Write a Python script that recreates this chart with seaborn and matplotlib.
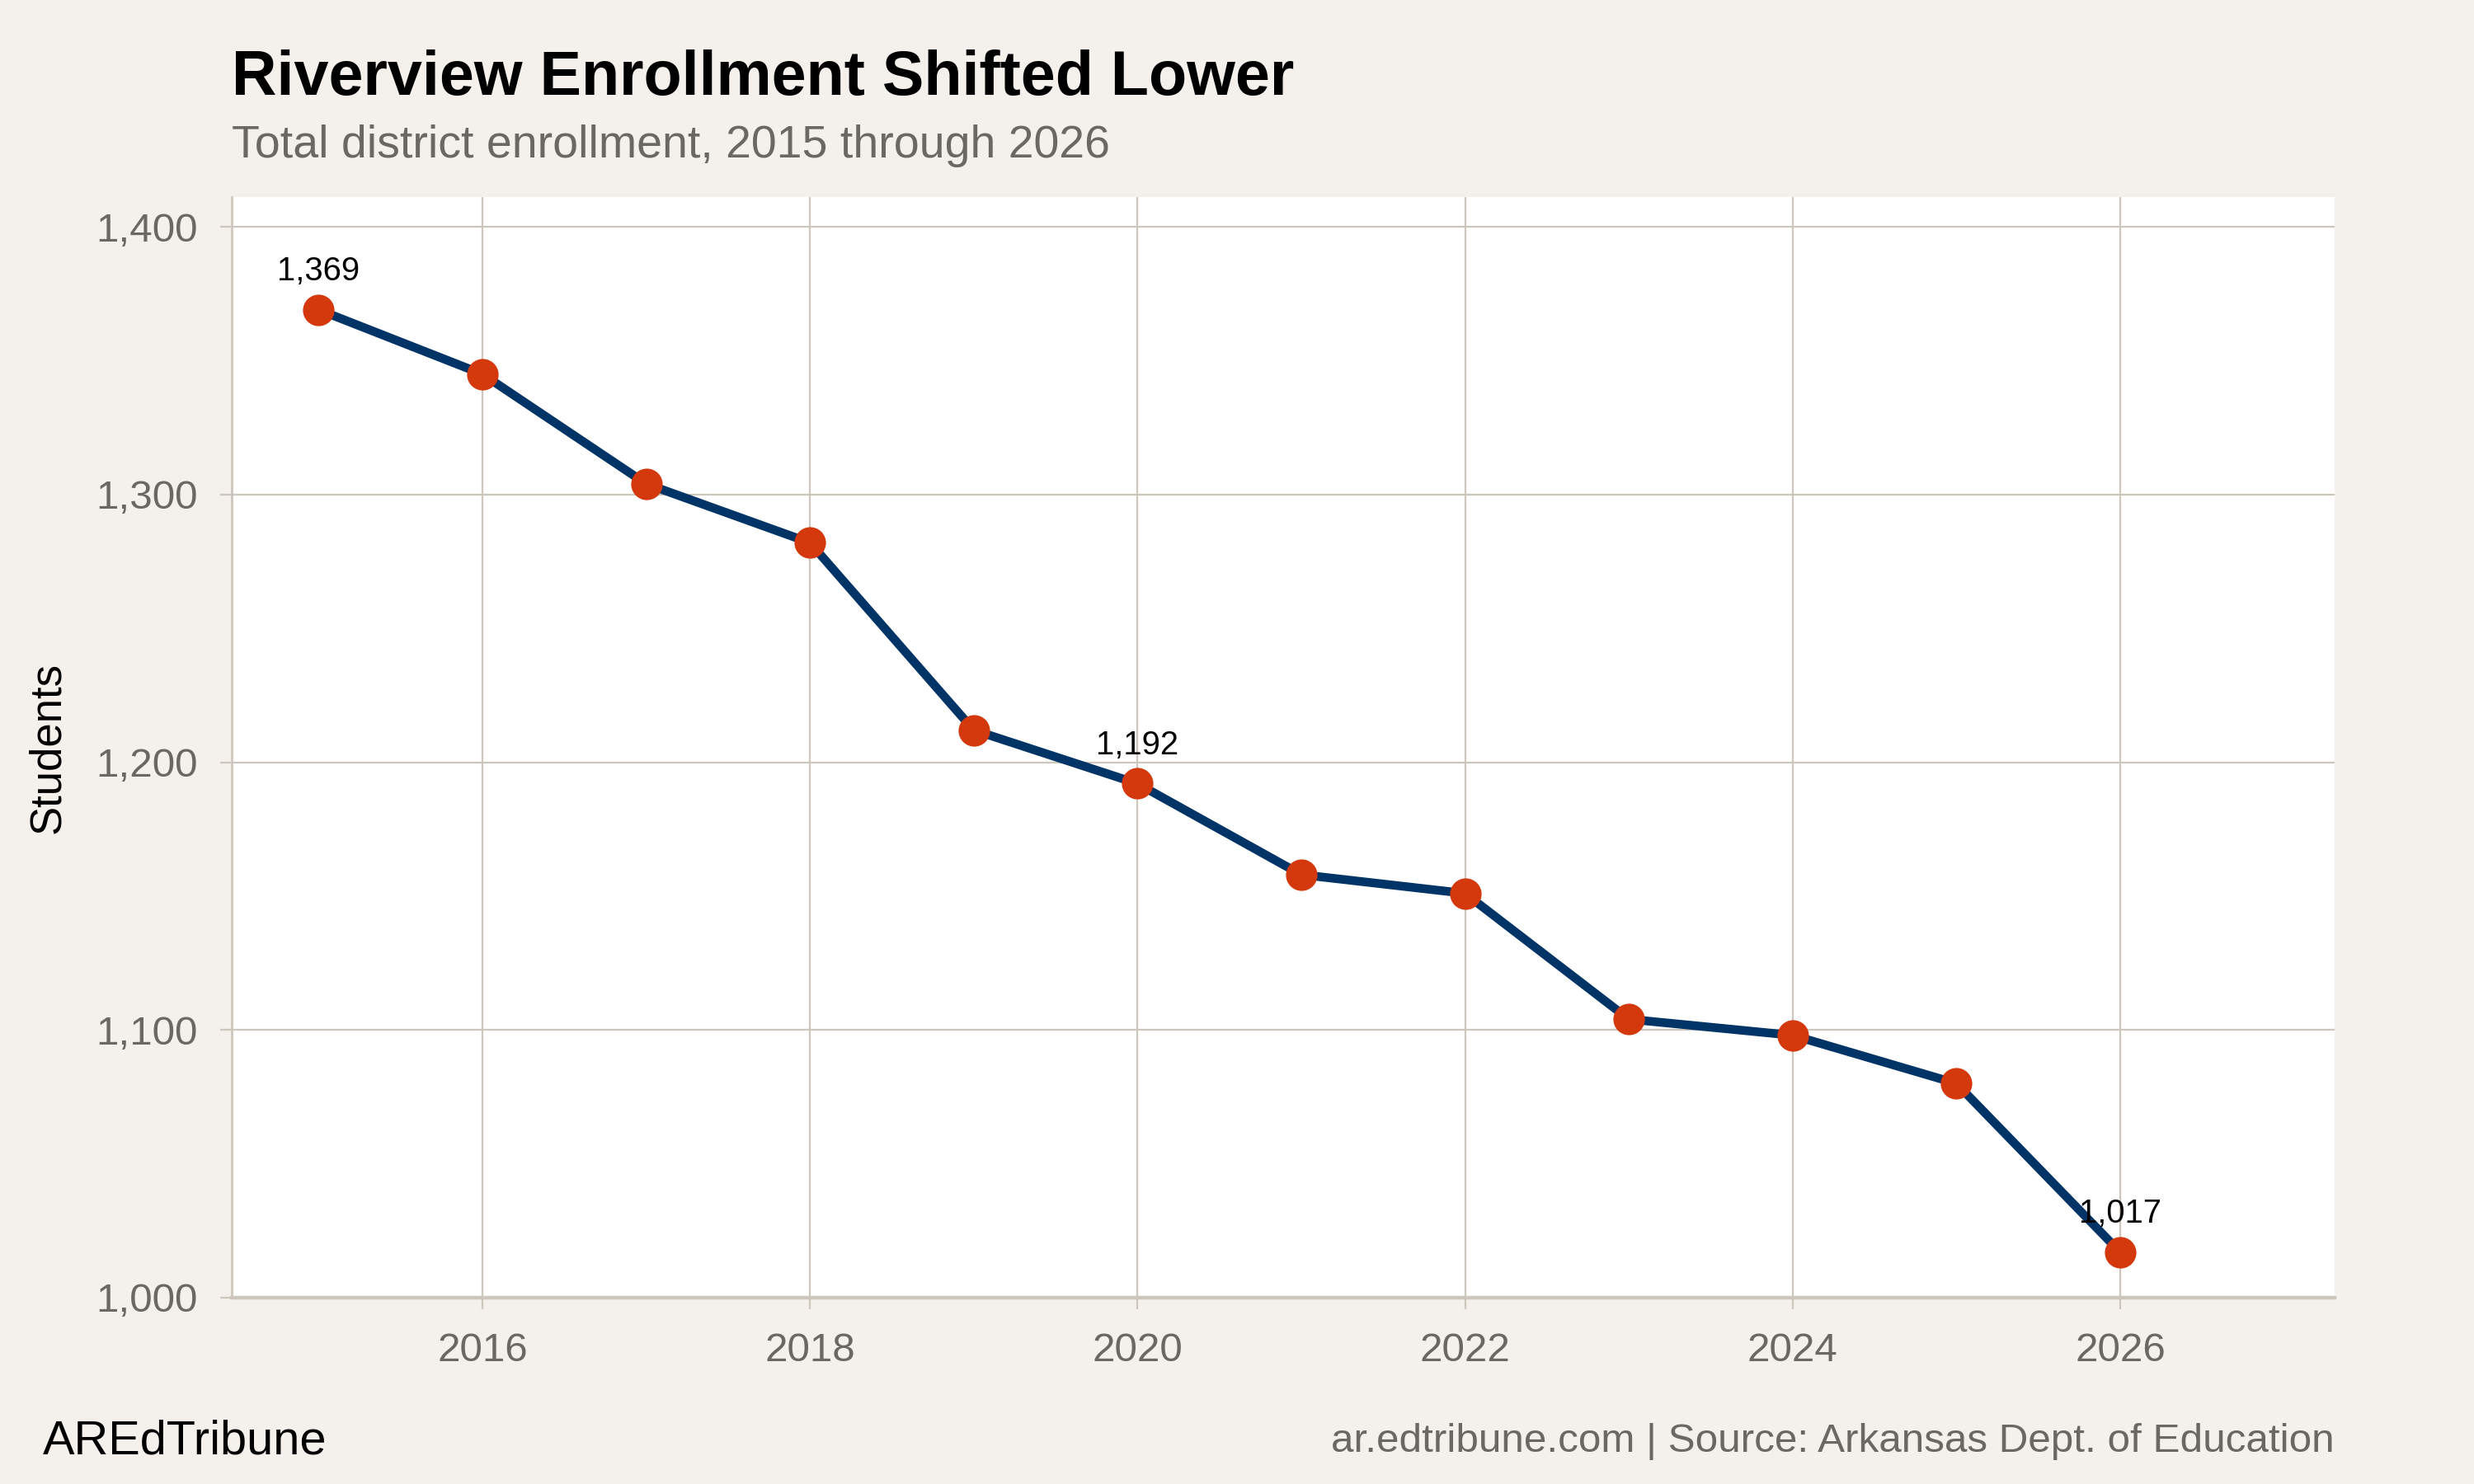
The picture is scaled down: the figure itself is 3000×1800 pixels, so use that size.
import pandas as pd
import seaborn as sns
import matplotlib.pyplot as plt
from matplotlib.ticker import FuncFormatter

# 数据
years = [2015, 2016, 2017, 2018, 2019, 2020, 2021, 2022, 2023, 2024, 2025, 2026]
students = [1369, 1345, 1304, 1282, 1212, 1192, 1158, 1151, 1104, 1098, 1080, 1017]
label_years = [2015, 2020, 2026]   # 需要标注数值的年份
x_ticks = [2016, 2018, 2020, 2022, 2024, 2026]
y_ticks = [1000, 1100, 1200, 1300, 1400]

BG = '#f4f1ec'
GRID = '#cdc6bc'
NAVY = '#003366'
ORANGE = '#d4380d'
GRAY = '#6b6762'


def draw(df):
    sns.set_theme(style='whitegrid')
    plt.rcParams['font.family'] = ['Liberation Sans', 'DejaVu Sans']

    fig = plt.figure(figsize=(15, 9), dpi=200, facecolor=BG)
    ax = fig.add_axes([0.0937, 0.1256, 0.85, 0.7414])
    ax.set_facecolor('white')

    sns.lineplot(data=df, x='year', y='students', ax=ax, color=NAVY, linewidth=3.8,
                 marker='o', markersize=13, markerfacecolor=ORANGE, markeredgecolor=ORANGE,
                 zorder=3)

    # 标注首、中、尾数值
    for _, row in df[df['year'].isin(label_years)].iterrows():
        ax.annotate('{:,}'.format(row['students']), (row['year'], row['students']),
                    xytext=(0, 10), textcoords='offset points', ha='center', va='bottom',
                    fontsize=14.4, color='black', zorder=4)

    ax.set_xlim(2014.47, 2027.31)
    ax.set_ylim(1000, 1411)
    ax.set_xticks(x_ticks)
    ax.set_yticks(y_ticks)
    ax.yaxis.set_major_formatter(FuncFormatter(lambda v, p: '{:,.0f}'.format(v)))

    ax.grid(True, color=GRID, linewidth=0.8)
    for side in ['top', 'right']:
        ax.spines[side].set_visible(False)
    ax.spines['left'].set_color(GRID)
    ax.spines['left'].set_linewidth(1.0)
    ax.spines['bottom'].set_color(GRID)
    ax.spines['bottom'].set_linewidth(1.6)
    ax.tick_params(axis='both', which='major', length=5, width=0.8, color=GRID,
                   labelcolor=GRAY, labelsize=17.8, pad=10, bottom=True, left=True)

    ax.set_xlabel('')
    ax.set_ylabel('Students', fontsize=19, color='black', labelpad=12)

    fig.text(0.0937, 0.936, 'Riverview Enrollment Shifted Lower', fontsize=27.2,
             fontweight='bold', color='black', ha='left', va='baseline')
    fig.text(0.0937, 0.894, 'Total district enrollment, 2015 through 2026', fontsize=20,
             color=GRAY, ha='left', va='baseline')
    fig.text(0.0173, 0.02, 'AREdTribune', fontsize=20.8, color='black', ha='left', va='baseline')
    fig.text(0.9437, 0.0217, 'ar.edtribune.com | Source: Arkansas Dept. of Education',
             fontsize=17.8, color=GRAY, ha='right', va='baseline')

    fig.savefig('out.png', dpi=200, facecolor=BG)


if __name__ == '__main__':
    data_df = pd.DataFrame({'year': years, 'students': students})
    draw(data_df)
